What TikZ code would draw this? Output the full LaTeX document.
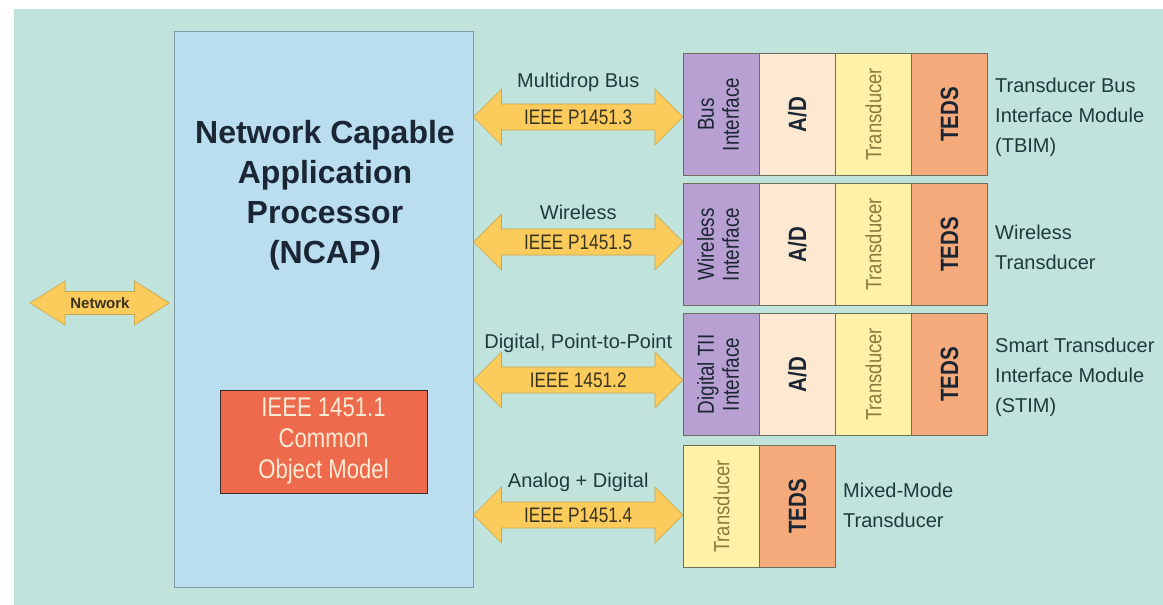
\documentclass[tikz,border=0pt]{standalone}
\usepackage{fontspec}
\setmainfont{Liberation Sans}
\newfontfamily\condfont[FakeStretch=0.82]{Liberation Sans}
\newfontfamily\narrowfont[FakeStretch=0.84]{Liberation Sans}
\usetikzlibrary{calc}

\definecolor{bgteal}{HTML}{C0E3DC}
\definecolor{ncapfill}{HTML}{BADDF0}
\definecolor{ncapedge}{HTML}{7F9AA5}
\definecolor{comfill}{HTML}{EE6A4C}
\definecolor{comedge}{HTML}{3B2A2A}
\definecolor{comtext}{HTML}{FCEBD5}
\definecolor{purp}{HTML}{B9A0D2}
\definecolor{adfill}{HTML}{FDE9D2}
\definecolor{trfill}{HTML}{FDF2A8}
\definecolor{tedsfill}{HTML}{F5AA7C}
\definecolor{celledge}{HTML}{6E6E5C}
\definecolor{arrowfill}{HTML}{FBCB5B}
\definecolor{arrowedge}{HTML}{C9A64C}
\definecolor{slate}{HTML}{1E3A3C}
\definecolor{navy}{HTML}{1A2633}
\definecolor{olive}{HTML}{8C7B3C}
\definecolor{darkbrown}{HTML}{3A3320}

\newcommand{\vtext}[1]{\rotatebox{90}{\begin{tabular}{@{}c@{}}#1\end{tabular}}}

\tikzset{
  head len/.initial=28pt,
  head half/.initial=28pt,
  shaft half/.initial=13pt,
  fat arrow/.style={fill=arrowfill, draw=arrowedge, line width=0.6pt,
    to path={let \p1=(\tikztostart), \p2=(\tikztotarget) in
      (\x1,\y1)
      -- (\x1+\pgfkeysvalueof{/tikz/head len},\y1+\pgfkeysvalueof{/tikz/head half})
      -- (\x1+\pgfkeysvalueof{/tikz/head len},\y1+\pgfkeysvalueof{/tikz/shaft half})
      -- (\x2-\pgfkeysvalueof{/tikz/head len},\y1+\pgfkeysvalueof{/tikz/shaft half})
      -- (\x2-\pgfkeysvalueof{/tikz/head len},\y1+\pgfkeysvalueof{/tikz/head half})
      -- (\x2,\y1)
      -- (\x2-\pgfkeysvalueof{/tikz/head len},\y1-\pgfkeysvalueof{/tikz/head half})
      -- (\x2-\pgfkeysvalueof{/tikz/head len},\y1-\pgfkeysvalueof{/tikz/shaft half})
      -- (\x1+\pgfkeysvalueof{/tikz/head len},\y1-\pgfkeysvalueof{/tikz/shaft half})
      -- (\x1+\pgfkeysvalueof{/tikz/head len},\y1-\pgfkeysvalueof{/tikz/head half})
      -- cycle}},
  cell/.style={draw=celledge, line width=0.8pt, minimum width=76pt,
    minimum height=122pt, inner sep=0pt, anchor=north west},
  ifacetext/.style={font=\condfont\fontsize{23}{25}\selectfont, text=navy},
  adtext/.style={font=\condfont\bfseries\fontsize{25}{26}\selectfont, text=navy},
  trtext/.style={font=\narrowfont\fontsize{22}{24}\selectfont, text=olive},
  ieee/.style={font=\condfont\fontsize{21}{24}\selectfont, text=darkbrown},
  buslabel/.style={font=\fontsize{20}{24}\selectfont, text=slate},
  sidelabel/.style={font=\fontsize{20}{30}\selectfont, text=slate,
    align=left, anchor=west, inner sep=0pt},
}

\begin{document}
\begin{tikzpicture}[x=1pt, y=-1pt]
    % Background
    \useasboundingbox (0,0) rectangle (1163,605);
    \fill[white] (0,0) rectangle (1163,605);
    \fill[bgteal] (14,9) rectangle (1163,605);

    % NCAP
    \node[draw=ncapedge, fill=ncapfill, line width=1pt, minimum width=299pt,
      minimum height=556pt, inner sep=0pt] (ncap) at (323.5,309) {};
    \node[align=center, text=navy, font=\bfseries\fontsize{32}{40}\selectfont]
      (ncaptitle) at (325,195) {Network Capable\\Application\\Processor\\(NCAP)};

    % Common object model
    \node[draw=comedge, fill=comfill, line width=1pt, minimum width=207pt,
      minimum height=103pt, align=center, text=comtext,
      font=\condfont\fontsize{27}{31}\selectfont] (com) at (323.5,441.5)
      {IEEE 1451.1\\Common\\Object Model};

    % Transducer bus interface module
    \node[cell, fill=purp, ifacetext] (bus1) at (683,53) {\vtext{Bus\\Interface}};
    \node[cell, fill=adfill, adtext] (ad1) at (759,53) {\rotatebox{90}{A/D}};
    \node[cell, fill=trfill, trtext] (tr1) at (835,53) {\rotatebox{90}{Transducer}};
    \node[cell, fill=tedsfill, adtext] (teds1) at (911,53) {\rotatebox{90}{TEDS}};

    % Wireless transducer
    \node[cell, fill=purp, ifacetext] (bus2) at (683,183) {\vtext{Wireless\\Interface}};
    \node[cell, fill=adfill, adtext] (ad2) at (759,183) {\rotatebox{90}{A/D}};
    \node[cell, fill=trfill, trtext] (tr2) at (835,183) {\rotatebox{90}{Transducer}};
    \node[cell, fill=tedsfill, adtext] (teds2) at (911,183) {\rotatebox{90}{TEDS}};

    % Smart transducer interface module
    \node[cell, fill=purp, ifacetext] (bus3) at (683,313) {\vtext{Digital TII\\Interface}};
    \node[cell, fill=adfill, adtext] (ad3) at (759,313) {\rotatebox{90}{A/D}};
    \node[cell, fill=trfill, trtext] (tr3) at (835,313) {\rotatebox{90}{Transducer}};
    \node[cell, fill=tedsfill, adtext] (teds3) at (911,313) {\rotatebox{90}{TEDS}};

    % Mixed-mode transducer
    \node[cell, fill=trfill, trtext] (tr4) at (683,445) {\rotatebox{90}{Transducer}};
    \node[cell, fill=tedsfill, adtext] (teds4) at (759,445) {\rotatebox{90}{TEDS}};

    % Side labels
    \node[sidelabel] (tbim) at (995,117) {Transducer Bus\\Interface Module\\(TBIM)};
    \node[sidelabel] (wtrans) at (995,247) {Wireless\\Transducer};
    \node[sidelabel] (stim) at (995,377) {Smart Transducer\\Interface Module\\(STIM)};
    \node[sidelabel] (mixed) at (843,505) {Mixed-Mode\\Transducer};

    % Fat arrows
    \coordinate (p1) at (683,117);
    \coordinate (p2) at (683,242);
    \coordinate (p3) at (683,380);
    \coordinate (p4) at (683,515);
    \coordinate (net) at (30,303);
    \draw[fat arrow] (ncap.east |- p1) to (p1);
    \draw[fat arrow] (ncap.east |- p2) to (p2);
    \draw[fat arrow] (ncap.east |- p3) to (p3);
    \draw[fat arrow] (ncap.east |- p4) to (p4);
    \draw[fat arrow, head len=35pt, head half=22pt, shaft half=11.5pt]
      (net) to ([xshift=-4pt]ncap.west |- net);

    % Arrow texts
    \node[ieee] (std1) at ($(ncap.east |- p1)!0.5!(p1)$) {IEEE P1451.3};
    \node[ieee] (std2) at ($(ncap.east |- p2)!0.5!(p2)$) {IEEE P1451.5};
    \node[ieee] (std3) at ($(ncap.east |- p3)!0.5!(p3)$) {IEEE 1451.2};
    \node[ieee] (std4) at ($(ncap.east |- p4)!0.5!(p4)$) {IEEE P1451.4};
    \node[buslabel] (kind1) at ($(std1)+(0,-35)$) {Multidrop Bus};
    \node[buslabel] (kind2) at ($(std2)+(0,-30)$) {Wireless};
    \node[buslabel] (kind3) at ($(std3)+(0,-37)$) {Digital, Point-to-Point};
    \node[buslabel] (kind4) at ($(std4)+(0,-33)$) {Analog + Digital};
    \node[text=darkbrown, font=\bfseries\fontsize{15}{18}\selectfont]
      (netlab) at (100,303) {Network};
\end{tikzpicture}
\end{document}
